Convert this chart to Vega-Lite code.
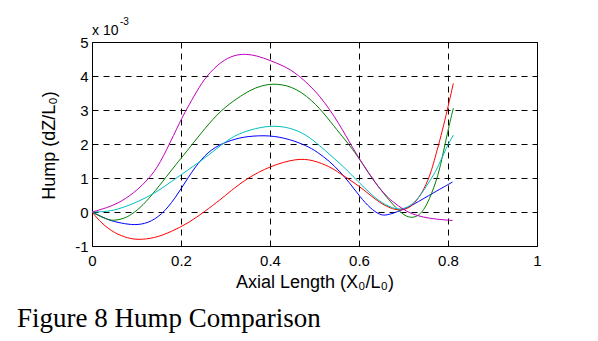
{
  "$schema": "https://vega.github.io/schema/vega-lite/v6.json",
  "width": 445,
  "height": 204,
  "autosize": {"type": "none"},
  "padding": {"left": 92, "top": 42, "right": 61, "bottom": 95},
  "background": "white",
  "config": {
    "view": {"stroke": "black", "strokeWidth": 1},
    "font": "Liberation Sans",
    "axis": {
      "labelOverlap": false,
      "labelFlush": false,
      "grid": true,
      "gridColor": "black",
      "gridDash": [6, 5],
      "gridOpacity": 1,
      "ticks": false,
      "domain": false,
      "labelFont": "Liberation Sans",
      "labelFontSize": 15,
      "labelColor": "black",
      "titleFont": "Liberation Sans",
      "titleFontSize": 18,
      "titleFontWeight": "normal",
      "titleColor": "black",
      "titleBaseline": "alphabetic"
    }
  },
  "title": {
    "text": "Figure 8 Hump Comparison",
    "orient": "bottom",
    "anchor": "start",
    "frame": "group",
    "font": "Liberation Serif",
    "fontSize": 27,
    "fontWeight": "normal",
    "color": "black",
    "dx": -75,
    "offset": 15
  },
  "layer": [
    {
      "data": {
        "values": [
          {"series": "blue", "x": 0, "y": 0},
          {"series": "blue", "x": 0.036, "y": -0.24},
          {"series": "blue", "x": 0.066, "y": -0.33},
          {"series": "blue", "x": 0.096, "y": -0.39},
          {"series": "blue", "x": 0.126, "y": -0.33},
          {"series": "blue", "x": 0.156, "y": -0.09},
          {"series": "blue", "x": 0.186, "y": 0.38},
          {"series": "blue", "x": 0.216, "y": 1.02},
          {"series": "blue", "x": 0.246, "y": 1.58},
          {"series": "blue", "x": 0.276, "y": 1.92},
          {"series": "blue", "x": 0.313, "y": 2.12},
          {"series": "blue", "x": 0.348, "y": 2.23},
          {"series": "blue", "x": 0.4, "y": 2.26},
          {"series": "blue", "x": 0.445, "y": 2.14},
          {"series": "blue", "x": 0.482, "y": 1.95},
          {"series": "blue", "x": 0.505, "y": 1.78},
          {"series": "blue", "x": 0.535, "y": 1.48},
          {"series": "blue", "x": 0.557, "y": 1.19},
          {"series": "blue", "x": 0.58, "y": 0.84},
          {"series": "blue", "x": 0.602, "y": 0.45},
          {"series": "blue", "x": 0.625, "y": 0.11},
          {"series": "blue", "x": 0.647, "y": -0.09},
          {"series": "blue", "x": 0.662, "y": -0.1},
          {"series": "blue", "x": 0.685, "y": 0.0},
          {"series": "blue", "x": 0.715, "y": 0.16},
          {"series": "blue", "x": 0.752, "y": 0.45},
          {"series": "blue", "x": 0.81, "y": 0.88},

          {"series": "green", "x": 0, "y": 0},
          {"series": "green", "x": 0.036, "y": -0.24},
          {"series": "green", "x": 0.051, "y": -0.25},
          {"series": "green", "x": 0.07, "y": -0.2},
          {"series": "green", "x": 0.088, "y": -0.09},
          {"series": "green", "x": 0.115, "y": 0.2},
          {"series": "green", "x": 0.141, "y": 0.6},
          {"series": "green", "x": 0.178, "y": 1.22},
          {"series": "green", "x": 0.2, "y": 1.58},
          {"series": "green", "x": 0.223, "y": 1.95},
          {"series": "green", "x": 0.253, "y": 2.45},
          {"series": "green", "x": 0.29, "y": 3.0},
          {"series": "green", "x": 0.328, "y": 3.36},
          {"series": "green", "x": 0.355, "y": 3.58},
          {"series": "green", "x": 0.38, "y": 3.72},
          {"series": "green", "x": 0.415, "y": 3.79},
          {"series": "green", "x": 0.46, "y": 3.65},
          {"series": "green", "x": 0.505, "y": 3.16},
          {"series": "green", "x": 0.535, "y": 2.67},
          {"series": "green", "x": 0.565, "y": 2.18},
          {"series": "green", "x": 0.584, "y": 1.88},
          {"series": "green", "x": 0.61, "y": 1.38},
          {"series": "green", "x": 0.632, "y": 0.94},
          {"series": "green", "x": 0.655, "y": 0.55},
          {"series": "green", "x": 0.677, "y": 0.2},
          {"series": "green", "x": 0.7, "y": -0.09},
          {"series": "green", "x": 0.715, "y": -0.17},
          {"series": "green", "x": 0.733, "y": -0.14},
          {"series": "green", "x": 0.752, "y": 0.16},
          {"series": "green", "x": 0.775, "y": 0.94},
          {"series": "green", "x": 0.786, "y": 1.53},
          {"series": "green", "x": 0.8, "y": 2.41},
          {"series": "green", "x": 0.812, "y": 3.05},

          {"series": "red", "x": 0, "y": 0},
          {"series": "red", "x": 0.021, "y": -0.33},
          {"series": "red", "x": 0.051, "y": -0.63},
          {"series": "red", "x": 0.081, "y": -0.77},
          {"series": "red", "x": 0.103, "y": -0.82},
          {"series": "red", "x": 0.141, "y": -0.77},
          {"series": "red", "x": 0.178, "y": -0.58},
          {"series": "red", "x": 0.216, "y": -0.33},
          {"series": "red", "x": 0.253, "y": 0.01},
          {"series": "red", "x": 0.29, "y": 0.38},
          {"series": "red", "x": 0.31, "y": 0.6},
          {"series": "red", "x": 0.348, "y": 0.99},
          {"series": "red", "x": 0.4, "y": 1.35},
          {"series": "red", "x": 0.46, "y": 1.58},
          {"series": "red", "x": 0.497, "y": 1.53},
          {"series": "red", "x": 0.535, "y": 1.33},
          {"series": "red", "x": 0.557, "y": 1.14},
          {"series": "red", "x": 0.58, "y": 0.94},
          {"series": "red", "x": 0.602, "y": 0.74},
          {"series": "red", "x": 0.625, "y": 0.5},
          {"series": "red", "x": 0.647, "y": 0.27},
          {"series": "red", "x": 0.67, "y": 0.11},
          {"series": "red", "x": 0.692, "y": 0.04},
          {"series": "red", "x": 0.715, "y": 0.11},
          {"series": "red", "x": 0.737, "y": 0.45},
          {"series": "red", "x": 0.756, "y": 0.94},
          {"series": "red", "x": 0.767, "y": 1.4},
          {"series": "red", "x": 0.79, "y": 2.51},
          {"series": "red", "x": 0.812, "y": 3.78},

          {"series": "cyan", "x": 0, "y": 0},
          {"series": "cyan", "x": 0.036, "y": 0.01},
          {"series": "cyan", "x": 0.066, "y": 0.11},
          {"series": "cyan", "x": 0.103, "y": 0.3},
          {"series": "cyan", "x": 0.141, "y": 0.55},
          {"series": "cyan", "x": 0.178, "y": 0.89},
          {"series": "cyan", "x": 0.216, "y": 1.24},
          {"series": "cyan", "x": 0.253, "y": 1.58},
          {"series": "cyan", "x": 0.29, "y": 1.97},
          {"series": "cyan", "x": 0.32, "y": 2.25},
          {"series": "cyan", "x": 0.355, "y": 2.42},
          {"series": "cyan", "x": 0.4, "y": 2.55},
          {"series": "cyan", "x": 0.445, "y": 2.49},
          {"series": "cyan", "x": 0.482, "y": 2.27},
          {"series": "cyan", "x": 0.512, "y": 1.95},
          {"series": "cyan", "x": 0.535, "y": 1.68},
          {"series": "cyan", "x": 0.557, "y": 1.43},
          {"series": "cyan", "x": 0.58, "y": 1.14},
          {"series": "cyan", "x": 0.602, "y": 0.84},
          {"series": "cyan", "x": 0.625, "y": 0.55},
          {"series": "cyan", "x": 0.647, "y": 0.3},
          {"series": "cyan", "x": 0.67, "y": 0.14},
          {"series": "cyan", "x": 0.692, "y": 0.06},
          {"series": "cyan", "x": 0.715, "y": 0.16},
          {"series": "cyan", "x": 0.737, "y": 0.45},
          {"series": "cyan", "x": 0.76, "y": 0.94},
          {"series": "cyan", "x": 0.775, "y": 1.24},
          {"series": "cyan", "x": 0.797, "y": 1.92},
          {"series": "cyan", "x": 0.812, "y": 2.26},

          {"series": "magenta", "x": 0, "y": 0},
          {"series": "magenta", "x": 0.033, "y": 0.12},
          {"series": "magenta", "x": 0.066, "y": 0.3},
          {"series": "magenta", "x": 0.103, "y": 0.65},
          {"series": "magenta", "x": 0.141, "y": 1.16},
          {"series": "magenta", "x": 0.167, "y": 1.8},
          {"series": "magenta", "x": 0.2, "y": 2.72},
          {"series": "magenta", "x": 0.212, "y": 3.0},
          {"series": "magenta", "x": 0.235, "y": 3.55},
          {"series": "magenta", "x": 0.257, "y": 4.0},
          {"series": "magenta", "x": 0.29, "y": 4.43},
          {"series": "magenta", "x": 0.32, "y": 4.62},
          {"series": "magenta", "x": 0.345, "y": 4.65},
          {"series": "magenta", "x": 0.37, "y": 4.6},
          {"series": "magenta", "x": 0.4, "y": 4.46},
          {"series": "magenta", "x": 0.43, "y": 4.3},
          {"series": "magenta", "x": 0.46, "y": 4.08},
          {"series": "magenta", "x": 0.512, "y": 3.45},
          {"series": "magenta", "x": 0.557, "y": 2.57},
          {"series": "magenta", "x": 0.584, "y": 1.92},
          {"series": "magenta", "x": 0.61, "y": 1.38},
          {"series": "magenta", "x": 0.632, "y": 0.94},
          {"series": "magenta", "x": 0.655, "y": 0.55},
          {"series": "magenta", "x": 0.677, "y": 0.28},
          {"series": "magenta", "x": 0.7, "y": 0.08},
          {"series": "magenta", "x": 0.715, "y": -0.04},
          {"series": "magenta", "x": 0.752, "y": -0.19},
          {"series": "magenta", "x": 0.81, "y": -0.25}
        ]
      },
      "mark": {"type": "line", "strokeWidth": 1, "interpolate": "basis"},
      "encoding": {
        "x": {
          "field": "x",
          "type": "quantitative",
          "scale": {"domain": [0, 1], "nice": false},
          "axis": {
            "values": [0, 0.2, 0.4, 0.6, 0.8, 1],
            "labelExpr": "toString(datum.value)",
            "labelPadding": 7,
            "title": "Axial Length (X₀/L₀)",
            "titleY": 41
          }
        },
        "y": {
          "field": "y",
          "type": "quantitative",
          "scale": {"domain": [-1, 5], "nice": false},
          "axis": {
            "values": [-1, 0, 1, 2, 3, 4, 5],
            "labelExpr": "toString(datum.value)",
            "labelPadding": 4,
            "title": "Hump (dZ/L₀)",
            "titleX": -38,
            "titleY": 103
          }
        },
        "color": {
          "field": "series",
          "type": "nominal",
          "scale": {
            "domain": ["blue", "green", "red", "cyan", "magenta"],
            "range": ["#0000ff", "#008000", "#ff0000", "#00bfbf", "#bf00bf"]
          },
          "legend": null
        }
      }
    },
    {
      "data": {"values": [{}]},
      "mark": {"type": "text", "align": "left", "baseline": "alphabetic", "font": "Liberation Sans", "fontSize": 14, "color": "black", "dy": -7},
      "encoding": {
        "x": {
          "datum": 0,
          "type": "quantitative",
          "axis": {
            "values": [0, 0.2, 0.4, 0.6, 0.8, 1],
            "labelExpr": "toString(datum.value)",
            "labelPadding": 7,
            "title": "Axial Length (X₀/L₀)",
            "titleY": 41
          }
        },
        "y": {
          "datum": 5,
          "type": "quantitative",
          "axis": {
            "values": [-1, 0, 1, 2, 3, 4, 5],
            "labelExpr": "toString(datum.value)",
            "labelPadding": 4,
            "title": "Hump (dZ/L₀)",
            "titleX": -38,
            "titleY": 103
          }
        },
        "text": {"value": "x 10"}
      }
    },
    {
      "data": {"values": [{}]},
      "mark": {"type": "text", "align": "left", "baseline": "alphabetic", "font": "Liberation Sans", "fontSize": 10, "color": "black", "dx": 28, "dy": -17},
      "encoding": {
        "x": {
          "datum": 0,
          "type": "quantitative",
          "axis": {
            "values": [0, 0.2, 0.4, 0.6, 0.8, 1],
            "labelExpr": "toString(datum.value)",
            "labelPadding": 7,
            "title": "Axial Length (X₀/L₀)",
            "titleY": 41
          }
        },
        "y": {
          "datum": 5,
          "type": "quantitative",
          "axis": {
            "values": [-1, 0, 1, 2, 3, 4, 5],
            "labelExpr": "toString(datum.value)",
            "labelPadding": 4,
            "title": "Hump (dZ/L₀)",
            "titleX": -38,
            "titleY": 103
          }
        },
        "text": {"value": "-3"}
      }
    }
  ]
}
